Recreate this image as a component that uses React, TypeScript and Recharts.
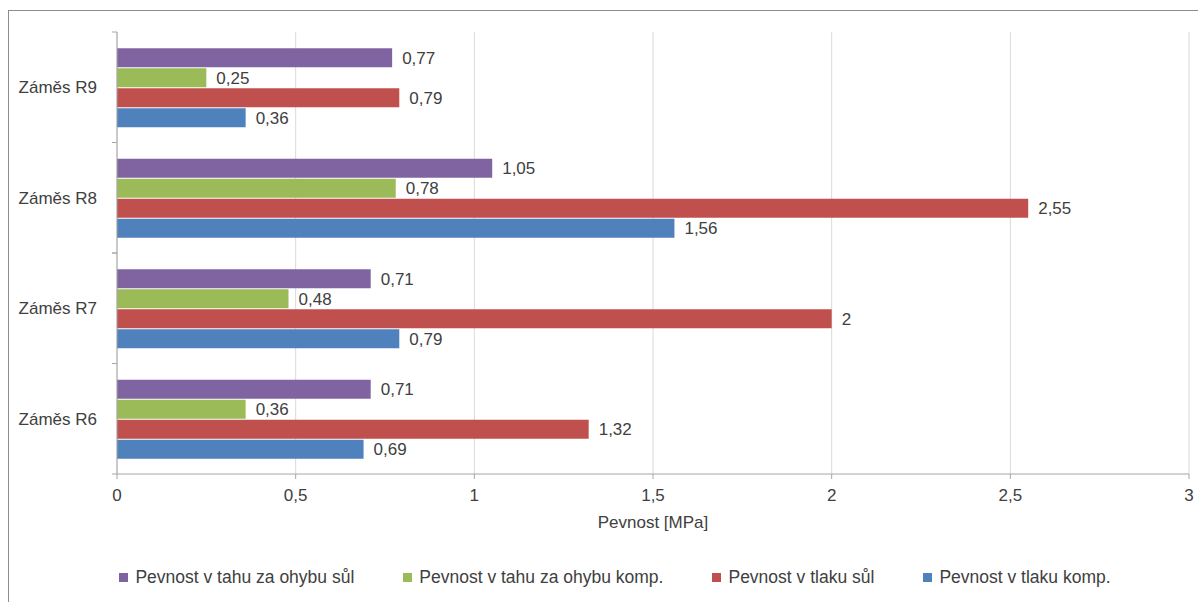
import { BarChart, Bar, XAxis, YAxis, CartesianGrid, Legend, LabelList } from 'recharts';

const categories = ['Záměs R9', 'Záměs R8', 'Záměs R7', 'Záměs R6'];
const tahSul = [0.77, 1.05, 0.71, 0.71];
const tahKomp = [0.25, 0.78, 0.48, 0.36];
const tlakSul = [0.79, 2.55, 2, 1.32];
const tlakKomp = [0.36, 1.56, 0.79, 0.69];
const xTicks = [0, 0.5, 1, 1.5, 2, 2.5, 3];

const series = [
  { key: 'tahSul', name: 'Pevnost v tahu za ohybu sůl', color: '#8064A2' },
  { key: 'tahKomp', name: 'Pevnost v tahu za ohybu komp.', color: '#9BBB59' },
  { key: 'tlakSul', name: 'Pevnost v tlaku sůl', color: '#C0504D' },
  { key: 'tlakKomp', name: 'Pevnost v tlaku komp.', color: '#4F81BD' },
];

const data = categories.map((name, i) => ({
  name,
  tahSul: tahSul[i],
  tahKomp: tahKomp[i],
  tlakSul: tlakSul[i],
  tlakKomp: tlakKomp[i],
}));

const FONT = '"Liberation Sans", Arial, sans-serif';
const TEXT = '#404040';
const comma = (v: any) => String(v).replace('.', ',');

const CategoryTick = (props: any) => {
  const { x, y, payload } = props;
  const half = payload && payload.offset ? payload.offset : 54;
  return (
    <g>
      <line x1={x + 3} x2={x + 8} y1={y - half} y2={y - half} stroke="#a6a6a6" />
      <line x1={x + 3} x2={x + 8} y1={y + half} y2={y + half} stroke="#a6a6a6" />
      <text x={x - 12} y={y} dy={6} textAnchor="end" fill={TEXT} fontSize={17} fontFamily={FONT}>
        {payload.value}
      </text>
    </g>
  );
};

const LegendContent = () => (
  <div style={{ display: 'flex', justifyContent: 'center', gap: 49, height: 24, alignItems: 'center', fontFamily: FONT, fontSize: 17.5, color: TEXT }}>
    {series.map((s) => (
      <div key={s.key} style={{ display: 'flex', alignItems: 'center' }}>
        <span style={{ display: 'inline-block', width: 9, height: 9, background: s.color, marginRight: 7 }} />
        <span>{s.name}</span>
      </div>
    ))}
  </div>
);

export default function App() {
  return (
    <div style={{ position: 'absolute', left: 0, top: 0, width: 1198, height: 602, overflow: 'hidden', background: '#fff', fontFamily: FONT }}>
      <div style={{ position: 'absolute', left: 8, top: 10, width: 1230, height: 620, border: '1.5px solid #8c8c8c' }} />
      <BarChart
        width={1198}
        height={602}
        data={data}
        layout="vertical"
        margin={{ top: 32, right: 9, left: 7, bottom: 34 }}
        barCategoryGap="14.7%"
        barGap={1}
      >
        <CartesianGrid horizontal={false} stroke="#d9d9d9" />
        <XAxis
          type="number"
          domain={[0, 3]}
          ticks={xTicks}
          tickFormatter={comma}
          height={70}
          stroke="#a6a6a6"
          tickSize={5}
          tick={{ fill: TEXT, fontSize: 17, fontFamily: FONT, dy: 8 }}
          label={{ value: 'Pevnost [MPa]', position: 'insideBottom', offset: 16, fill: TEXT, fontSize: 17, fontFamily: FONT }}
        />
        <YAxis
          type="category"
          dataKey="name"
          width={110}
          stroke="#a6a6a6"
          tickLine={false}
          tick={<CategoryTick />}
        />
        <Legend
          verticalAlign="bottom"
          content={<LegendContent />}
          wrapperStyle={{ left: 16, width: 1198, bottom: 'auto', top: 565 }}
        />
        {series.map((s) => (
          <Bar key={s.key} dataKey={s.key} name={s.name} fill={s.color} isAnimationActive={false}>
            <LabelList dataKey={s.key} position="right" offset={10} formatter={comma} fill={TEXT} fontSize={17} fontFamily={FONT} />
          </Bar>
        ))}
      </BarChart>
    </div>
  );
}
